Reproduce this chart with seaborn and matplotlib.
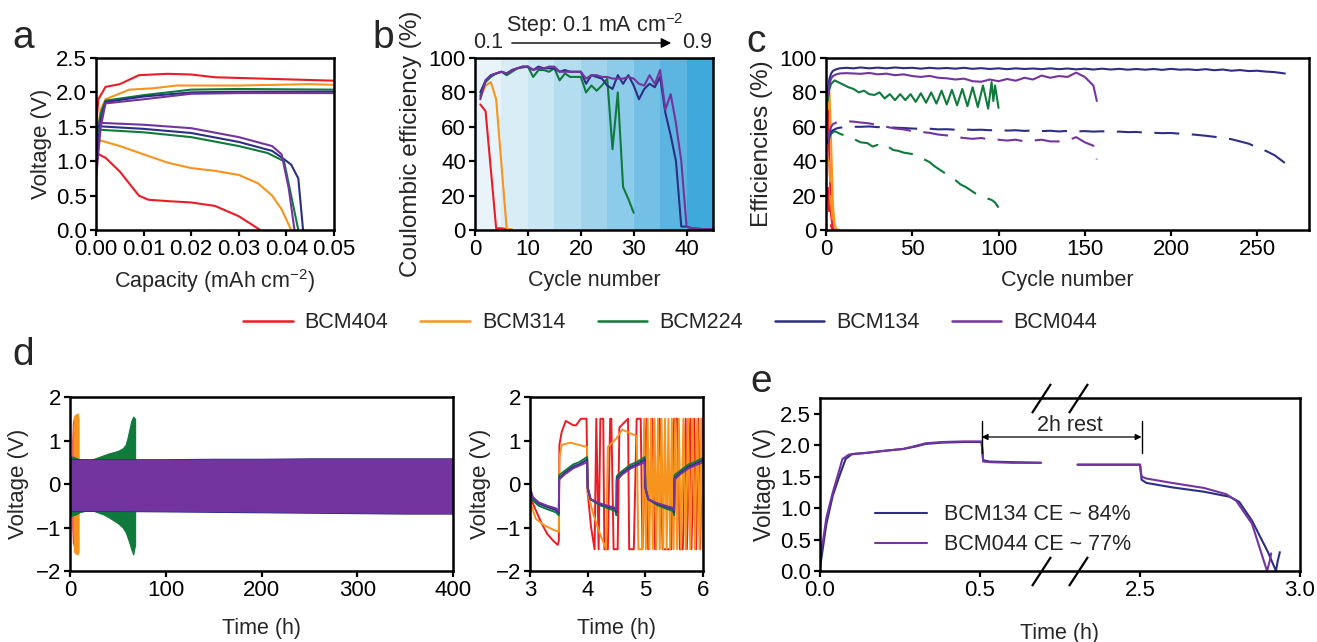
import seaborn as sns
import matplotlib.pyplot as plt
from matplotlib.lines import Line2D
from matplotlib.patches import FancyArrowPatch
import pandas as pd
import numpy as np

sns.set_style('ticks')
plt.rcParams['font.family'] = ['Liberation Sans', 'DejaVu Sans']
plt.rcParams['mathtext.default'] = 'regular'
plt.rcParams['axes.linewidth'] = 1.8
plt.rcParams['xtick.major.width'] = 1.6
plt.rcParams['ytick.major.width'] = 1.6
plt.rcParams['xtick.major.size'] = 4.5
plt.rcParams['ytick.major.size'] = 4.5
plt.rcParams['xtick.labelsize'] = 16
plt.rcParams['ytick.labelsize'] = 16
plt.rcParams['axes.labelsize'] = 15.5
plt.rcParams['axes.edgecolor'] = 'black'
plt.rcParams['xtick.color'] = 'black'
plt.rcParams['ytick.color'] = 'black'

names = ['BCM404', 'BCM314', 'BCM224', 'BCM134', 'BCM044']
colors = {'BCM404': '#ec1c24', 'BCM314': '#f7941d', 'BCM224': '#0f7a3b',
          'BCM134': '#2c2f85', 'BCM044': '#7434a0'}

# ---- panel a: voltage vs capacity (charge / discharge)
a_chg_x = {
    'BCM404': [0, 0.0005, 0.002, 0.005, 0.009, 0.015, 0.02, 0.025, 0.035, 0.05],
    'BCM314': [0, 0.001, 0.002, 0.007, 0.012, 0.017, 0.03, 0.045, 0.05],
    'BCM224': [0, 0.001, 0.002, 0.01, 0.02, 0.03, 0.05],
    'BCM134': [0, 0.001, 0.002, 0.01, 0.02, 0.03, 0.05],
    'BCM044': [0, 0.001, 0.002, 0.01, 0.02, 0.03, 0.05]}
a_chg_v = {
    'BCM404': [1.5, 1.9, 2.08, 2.12, 2.25, 2.27, 2.26, 2.22, 2.2, 2.17],
    'BCM314': [1.3, 1.75, 1.9, 2.04, 2.06, 2.1, 2.1, 2.12, 2.11],
    'BCM224': [1.3, 1.7, 1.88, 1.96, 2.04, 2.05, 2.04],
    'BCM134': [1.0, 1.6, 1.86, 1.94, 2.0, 2.01, 2.01],
    'BCM044': [0.75, 1.5, 1.84, 1.9, 1.98, 1.99, 1.99]}
a_dis_x = {
    'BCM404': [0, 0.002, 0.005, 0.009, 0.011, 0.015, 0.02, 0.025, 0.03, 0.0345],
    'BCM314': [0, 0.005, 0.01, 0.015, 0.02, 0.025, 0.03, 0.034, 0.037, 0.039, 0.041],
    'BCM224': [0, 0.01, 0.02, 0.03, 0.036, 0.0395, 0.041, 0.0425],
    'BCM134': [0, 0.01, 0.02, 0.03, 0.037, 0.0395, 0.041, 0.0425, 0.0435],
    'BCM044': [0, 0.01, 0.02, 0.03, 0.037, 0.039, 0.0405, 0.0417]}
a_dis_v = {
    'BCM404': [1.12, 1.05, 0.85, 0.5, 0.44, 0.42, 0.4, 0.35, 0.2, 0.0],
    'BCM314': [1.32, 1.22, 1.1, 0.98, 0.9, 0.86, 0.8, 0.68, 0.5, 0.3, 0.0],
    'BCM224': [1.46, 1.42, 1.35, 1.22, 1.12, 1.0, 0.5, 0.0],
    'BCM134': [1.51, 1.47, 1.41, 1.28, 1.15, 1.03, 0.95, 0.75, 0.0],
    'BCM044': [1.56, 1.53, 1.48, 1.35, 1.22, 1.1, 0.6, 0.0]}

# ---- panel b: coulombic efficiency in rate test
b_cycle = {
    'BCM404': [1, 2, 3, 4, 5, 6],
    'BCM314': [1, 2, 3, 4, 5, 6, 7],
    'BCM224': list(range(1, 31)),
    'BCM134': list(range(1, 46)),
    'BCM044': list(range(1, 46))}
b_ce = {
    'BCM404': [73, 69, 35, 1, 1, 0.5],
    'BCM314': [77, 84, 86, 76, 38, 0.5, 0.5],
    'BCM224': [78, 86, 89, 91, 92, 90, 92, 94, 94.5, 95, 89, 93, 93, 92, 94,
               87, 91, 89, 89, 89, 80, 84, 81, 84, 88, 47, 80, 25, 18, 10],
    'BCM134': [80, 87, 90, 91, 92, 91, 93, 94, 95, 95, 93, 95, 94, 94, 94,
               92, 93, 92, 92, 92, 85, 90, 89, 88, 84, 82, 90, 85, 90, 84,
               76, 82, 85, 83, 89, 68, 55, 40, 2, 2, 1, 0.5, 0.5, 0.5, 0.5],
    'BCM044': [76, 87, 90, 91, 92, 91, 93, 94, 95, 95, 93, 94, 94, 95, 95,
               92, 92, 92, 92, 92, 88, 90, 90, 89, 89, 88, 88, 88, 89, 88,
               85, 84, 90, 85, 93, 70, 79, 62, 40, 2, 1, 1, 0.5, 0.5, 0.5]}
b_band_edges = [0, 5, 10, 15, 20, 25, 30, 35, 40, 45]
b_band_colors = ['#e9f4fa', '#d9edf7', '#c8e6f3', '#b5ddf0', '#a1d4ec',
                 '#8ccbe9', '#74c0e5', '#5cb5e0', '#40a9db']

# ---- panel c: long cycling (solid = CE, dashed = EE)
c_cyc = {
    'BCM404': [1, 2, 3, 4, 5],
    'BCM314': [1, 2, 3, 4, 5, 6, 8],
    'BCM224': [1, 2, 3, 5, 7, 10, 13, 16, 19, 22, 25, 28, 31, 34, 37, 40, 43, 46,
               49, 52, 55, 58, 61, 64, 67, 70, 73, 76, 79, 82, 85, 88, 91, 94,
               96, 97, 98, 100],
    'BCM134': [1, 2, 3, 4, 6, 8, 12, 16, 20, 25, 30, 35, 40, 45, 50, 55, 60, 65,
               70, 75, 80, 85, 90, 95, 100, 105, 110, 115, 120, 125, 130, 135,
               140, 145, 150, 155, 160, 165, 170, 175, 180, 185, 190, 195, 200,
               205, 210, 215, 220, 225, 230, 235, 240, 245, 250, 255, 260, 266],
    'BCM044': [1, 2, 3, 4, 6, 8, 12, 16, 20, 25, 30, 35, 40, 45, 50, 55, 60, 65,
               70, 75, 80, 85, 90, 95, 100, 105, 110, 115, 120, 125, 130, 135,
               140, 145, 150, 155, 157]}
c_ce = {
    'BCM404': [75, 40, 8, 1, 0],
    'BCM314': [70, 80, 50, 15, 3, 0.5, 0],
    'BCM224': [75, 82, 85, 87, 86, 84.5, 83, 82, 80, 81, 79, 78.5, 80, 76.5, 79,
               75.5, 79, 75.5, 79, 74.5, 79.5, 74, 80, 73.5, 81, 73, 81.5, 72.5,
               82, 72, 83, 71.5, 84, 70.5, 86, 75, 84, 71],
    'BCM134': [80, 88, 91, 92.5, 93.5, 94, 94.3, 94, 94.5, 94, 94.4, 94, 94.5,
               94.1, 94.3, 93.8, 94.3, 93.9, 94.2, 93.8, 94.3, 93.7, 94.1, 93.6,
               94, 93.5, 94, 93.6, 93.9, 93.5, 94, 93.5, 93.9, 93.4, 93.8, 93.3,
               93.8, 93.3, 93.7, 93.2, 93.6, 93.2, 93.6, 93.1, 93.7, 93.2, 93.4,
               93, 93.5, 92.9, 93.3, 92.6, 93, 92.4, 92.6, 92.1, 91.8, 91],
    'BCM044': [78, 85, 88, 89.5, 90.5, 91, 91.2, 91, 90.8, 91.3, 90.5, 90.9, 90,
               90.5, 89.5, 89, 89.6, 88.5, 88.2, 87.5, 88, 86.5, 86.2, 87.5, 86.5,
               87.8, 86.8, 88.5, 87.5, 89.8, 88.5, 89.5, 89, 91.5, 89, 84, 75]}
c_ee_cyc = {
    'BCM404': [1, 2, 3, 4],
    'BCM314': [1, 2, 3, 4, 5, 6],
    'BCM224': [1, 2, 3, 5, 8, 12, 16, 20, 24, 27, 30, 33, 36, 39, 42, 45, 48, 51,
               54, 57, 60, 63, 66, 69, 72, 75, 78, 81, 84, 87, 90, 93, 96, 98, 100],
    'BCM134': c_cyc['BCM134'],
    'BCM044': c_cyc['BCM044']}
c_ee = {
    'BCM404': [25, 8, 2, 0],
    'BCM314': [42, 38, 15, 4, 1, 0],
    'BCM224': [50, 54, 56, 57.5, 56, 54.5, 53, 51, 50.5, 48.5, 49.5, 47.5, 48.5,
               46.5, 46, 45, 44.5, 44, 42.5, 41, 39.5, 37, 35, 33, 30.5, 29, 26.5,
               25, 23, 21, 20, 18.5, 17.5, 16, 13],
    'BCM134': [50, 55, 57, 58, 59, 59.5, 59.8, 60, 60, 60.2, 59.8, 60, 59.5, 59.3,
               59, 58.8, 58.9, 58.5, 58.6, 58.3, 58.5, 58.2, 58.3, 58, 58.2, 57.8,
               58, 57.6, 57.9, 57.5, 57.7, 57.3, 57.6, 57.3, 57.5, 57.2, 57.4, 57,
               57.2, 56.9, 57, 56.6, 56.5, 56.3, 56.4, 56, 55.8, 55.3, 54.8, 54.2,
               53.5, 52.8, 51.5, 50.2, 48, 46, 43.5, 39],
    'BCM044': [50, 57, 60, 61.5, 62.5, 63, 63.2, 63, 62.5, 62, 61, 60, 59, 58.5,
               57.5, 57, 56.5, 55.5, 55, 54, 53.5, 53, 53.5, 52.5, 52.5, 52, 52.5,
               51.5, 52, 52.5, 51.5, 51.5, 52, 54, 51, 49, 41]}

# ---- panel d (left): voltage envelope of symmetric cycling
d_t = {
    'BCM404': [2.5, 3, 4, 5, 6],
    'BCM314': [3.5, 4, 6, 8, 9],
    'BCM224': [0, 3, 6, 10, 15, 20, 25, 30, 35, 40, 45, 50, 55, 58, 60, 62, 64,
               66, 67, 68],
    'BCM134': [0, 50, 100, 150, 200, 250, 300, 350, 400],
    'BCM044': [0, 50, 100, 150, 200, 250, 300, 350, 400]}
d_hi = {
    'BCM404': [1.0, 1.4, 1.5, 1.5, 1.5],
    'BCM314': [1.3, 1.55, 1.6, 1.62, 1.5],
    'BCM224': [0.62, 0.63, 0.6, 0.57, 0.56, 0.55, 0.58, 0.62, 0.66, 0.7, 0.73,
               0.76, 0.82, 0.9, 1.05, 1.25, 1.45, 1.55, 1.52, 1.5],
    'BCM134': [0.57, 0.57, 0.57, 0.58, 0.58, 0.59, 0.59, 0.59, 0.59],
    'BCM044': [0.55, 0.55, 0.55, 0.56, 0.56, 0.57, 0.57, 0.57, 0.57]}
d_lo = {
    'BCM404': [-1.0, -1.35, -1.4, -1.45, -1.45],
    'BCM314': [-1.1, -1.55, -1.6, -1.62, -1.5],
    'BCM224': [-0.75, -0.72, -0.7, -0.65, -0.62, -0.6, -0.62, -0.66, -0.7, -0.76,
               -0.83, -0.9, -1.0, -1.1, -1.22, -1.35, -1.5, -1.62, -1.5, -1.4],
    'BCM134': [-0.62, -0.62, -0.63, -0.64, -0.65, -0.66, -0.67, -0.68, -0.68],
    'BCM044': [-0.6, -0.6, -0.61, -0.62, -0.63, -0.64, -0.65, -0.66, -0.66]}

# ---- panel d (right): zoom 3-6 h
dz_t_stable = [3.0, 3.05, 3.15, 3.3, 3.45, 3.5, 3.505, 3.6, 3.75, 3.85, 3.99,
               4.0, 4.05, 4.2, 4.35, 4.48, 4.5, 4.505, 4.6, 4.75, 4.85, 4.99,
               5.0, 5.05, 5.2, 5.35, 5.48, 5.5, 5.505, 5.6, 5.75, 5.85, 6.0]
dz_t = {
    'BCM404': [3.0, 3.1, 3.2, 3.3, 3.4, 3.48, 3.5, 3.51, 3.55, 3.62, 3.75, 3.8,
               3.88, 3.98, 4.0, 4.06, 4.12, 4.15, 4.19, 4.22, 4.27, 4.29, 4.35,
               4.39, 4.41, 4.45, 4.52, 4.55, 4.7, 4.72, 4.8, 4.85, 4.92, 4.95,
               5.02, 5.05, 5.12, 5.17, 5.25, 5.3, 5.45, 5.5, 5.55, 5.6, 5.65, 5.7,
               5.72, 5.78, 5.8, 5.85, 5.88, 5.92, 5.95, 6.0],
    'BCM314': [3.0, 3.1, 3.25, 3.4, 3.5, 3.51, 3.55, 3.7, 3.99, 4.0, 4.1, 4.2,
               4.32, 4.35, 4.5, 4.6, 4.85, 4.88, 4.95, 4.98, 5.01, 5.04, 5.07,
               5.1, 5.13, 5.16, 5.19, 5.22, 5.25, 5.28, 5.31, 5.34, 5.37, 5.4,
               5.43, 5.46, 5.49, 5.52, 5.55, 5.58, 5.62, 5.66, 5.7, 5.74, 5.78,
               5.82, 5.86, 5.9, 5.94, 5.97, 6.0],
    'BCM224': dz_t_stable, 'BCM134': dz_t_stable, 'BCM044': dz_t_stable}
dz_v = {
    'BCM404': [-0.3, -0.6, -0.9, -1.15, -1.3, -1.4, -1.3, 0.9, 1.2, 1.45, 1.35,
               1.35, 1.5, 1.5, -0.2, -1.0, -1.5, 1.5, -1.5, 1.5, 1.5, -1.5, -1.5,
               1.5, 1.5, -1.5, -1.5, 1.3, 1.5, -1.5, -1.5, 1.5, 1.5, -1.5, 1.5,
               -1.5, 1.5, -1.5, 1.5, -1.5, -1.5, 1.5, 1.5, -1.5, -1.5, 1.5, -1.5,
               1.5, -1.5, 1.5, -1.5, 1.5, -1.5, 1.5],
    'BCM314': [-0.4, -0.8, -0.95, -1.05, -1.1, 0.6, 0.9, 0.95, 0.85, -0.2, -0.7,
               -1.1, -1.5, 0.85, 1.05, 1.25, 1.1, -1.5, -1.5, 1.5, -1.5, 1.5,
               -1.5, 1.5, -1.5, 1.5, -1.5, 1.5, -1.5, 1.5, -1.5, 1.5, -1.5, 1.5,
               -1.5, 1.5, -1.5, 1.5, -1.5, 1.5, -1.5, 1.5, -1.5, 1.5, -1.5, 1.5,
               -1.5, 1.5, -1.5, 1.5, -1.5],
    'BCM224': [-0.2, -0.38, -0.5, -0.58, -0.65, -0.72, 0.2, 0.3, 0.45, 0.5, 0.62,
               -0.05, -0.35, -0.48, -0.56, -0.62, -0.72, 0.18, 0.3, 0.45, 0.5,
               0.62, -0.05, -0.35, -0.48, -0.56, -0.62, -0.72, 0.2, 0.3, 0.45,
               0.5, 0.6],
    'BCM134': [-0.12, -0.32, -0.45, -0.53, -0.6, -0.66, 0.13, 0.25, 0.4, 0.45,
               0.56, -0.1, -0.35, -0.45, -0.52, -0.57, -0.65, 0.12, 0.25, 0.4,
               0.45, 0.56, -0.1, -0.35, -0.45, -0.52, -0.57, -0.65, 0.13, 0.25,
               0.4, 0.45, 0.55],
    'BCM044': [-0.08, -0.3, -0.42, -0.5, -0.56, -0.62, 0.1, 0.22, 0.36, 0.42,
               0.5, -0.1, -0.35, -0.44, -0.5, -0.55, -0.6, 0.08, 0.22, 0.36, 0.42,
               0.5, -0.1, -0.35, -0.44, -0.5, -0.55, -0.6, 0.1, 0.22, 0.36, 0.42,
               0.5]}

# ---- panel e: charge, 2 h rest, discharge
e_labels = {'BCM134': 'BCM134 CE ~ 84%', 'BCM044': 'BCM044 CE ~ 77%'}
e_t1 = {
    'BCM134': [0.0, 0.01, 0.02, 0.04, 0.06, 0.08, 0.1, 0.15, 0.2, 0.26, 0.3, 0.33,
               0.38, 0.45, 0.505, 0.51, 0.53, 0.6, 0.69],
    'BCM044': [0.0, 0.01, 0.02, 0.04, 0.06, 0.07, 0.09, 0.15, 0.2, 0.26, 0.3,
               0.33, 0.38, 0.45, 0.505, 0.51, 0.53, 0.6, 0.69]}
e_v1 = {
    'BCM134': [0.05, 0.4, 0.75, 1.2, 1.5, 1.78, 1.86, 1.88, 1.91, 1.94, 1.98, 2.02,
               2.04, 2.05, 2.05, 1.76, 1.74, 1.73, 1.72],
    'BCM044': [0.25, 0.5, 0.85, 1.25, 1.6, 1.78, 1.85, 1.88, 1.91, 1.94, 1.99,
               2.03, 2.05, 2.06, 2.06, 1.74, 1.73, 1.72, 1.72]}
e_t2 = {
    'BCM134': [2.305, 2.4, 2.5, 2.505, 2.52, 2.6, 2.7, 2.78, 2.81, 2.85, 2.9,
               2.925, 2.93, 2.937],
    'BCM044': [2.305, 2.4, 2.5, 2.505, 2.52, 2.6, 2.7, 2.77, 2.8, 2.85, 2.897,
               2.905, 2.91]}
e_v2 = {
    'BCM134': [1.69, 1.69, 1.69, 1.45, 1.4, 1.33, 1.26, 1.18, 1.1, 0.8, 0.3, 0.0,
               0.15, 0.3],
    'BCM044': [1.69, 1.69, 1.69, 1.5, 1.47, 1.4, 1.32, 1.22, 1.12, 0.75, 0.0,
               0.15, 0.28]}
e_break_real = [-1.0, 0.0, 0.69, 2.305, 4.0]
e_break_disp = [-1.0, 0.0, 0.69, 0.805, 2.5]

W, H = 1317, 642
fig = plt.figure(figsize=(W / 100, H / 100), dpi=100)


def box(l, t, r, b):
    return fig.add_axes([l / W, 1 - b / H, (r - l) / W, (b - t) / H])


def line(ax, x, y, c, **kw):
    sns.lineplot(x=x, y=y, color=c, ax=ax, sort=False, estimator=None,
                 linewidth=kw.pop('lw', 1.5), **kw)


ax_a = box(96, 58, 334, 230)
ax_b = box(475, 58, 713, 230)
ax_c = box(826, 58, 1309, 230)
ax_d1 = box(70, 397, 453, 571)
ax_d2 = box(530, 397, 703, 571)
ax_e = box(820, 398, 1300, 571)

# a
for n in names:
    line(ax_a, a_dis_x[n], a_dis_v[n], colors[n])
    line(ax_a, a_chg_x[n], a_chg_v[n], colors[n])
ax_a.set_xlim(0, 0.05)
ax_a.set_ylim(0, 2.5)
ax_a.set_xticks([0, 0.01, 0.02, 0.03, 0.04, 0.05])
ax_a.set_xticklabels(['0.00', '0.01', '0.02', '0.03', '0.04', '0.05'])
ax_a.set_yticks([0, 0.5, 1.0, 1.5, 2.0, 2.5])
ax_a.set_yticklabels(['0.0', '0.5', '1.0', '1.5', '2.0', '2.5'])
ax_a.set_xlabel('Capacity (mAh cm$^{-2}$)', labelpad=5)
ax_a.set_ylabel('Voltage (V)', labelpad=3, fontsize=16)

# b
for i in range(len(b_band_colors)):
    ax_b.axvspan(b_band_edges[i], b_band_edges[i + 1], color=b_band_colors[i],
                 lw=0, zorder=0)
for n in names:
    line(ax_b, b_cycle[n], b_ce[n], colors[n])
ax_b.set_xlim(0, 45)
ax_b.set_ylim(0, 100)
ax_b.set_xticks([0, 10, 20, 30, 40])
ax_b.set_yticks([0, 20, 40, 60, 80, 100])
ax_b.set_xlabel('Cycle number', labelpad=7)
ax_b.set_ylabel('Coulombic efficiency (%)', labelpad=5, fontsize=17.5)
fig.text(595 / W, 1 - 25 / H, 'Step: 0.1 mA cm$^{-2}$', ha='center',
         va='center', fontsize=15.5)
fig.text(488 / W, 1 - 43 / H, '0.1', ha='center', va='center', fontsize=15.5)
fig.text(697 / W, 1 - 43 / H, '0.9', ha='center', va='center', fontsize=15.5)
fig.add_artist(FancyArrowPatch(
    (509 / W, 1 - 43 / H), (674 / W, 1 - 43 / H), transform=fig.transFigure,
    arrowstyle='-|>', mutation_scale=15, lw=1.0, color='black'))

# c
for n in names:
    line(ax_c, c_cyc[n], c_ce[n], colors[n])
    line(ax_c, c_ee_cyc[n], c_ee[n], colors[n], linestyle=(0, (12, 6)))
ax_c.set_xlim(0, 280)
ax_c.set_ylim(0, 100)
ax_c.set_xticks([0, 50, 100, 150, 200, 250])
ax_c.set_yticks([0, 20, 40, 60, 80, 100])
ax_c.set_xlabel('Cycle number', labelpad=7)
ax_c.set_ylabel('Efficiencies (%)', labelpad=5, fontsize=17.5)

# d left
for n in names:
    ax_d1.fill_between(d_t[n], d_lo[n], d_hi[n], color=colors[n], lw=0.8)
ax_d1.set_xlim(0, 400)
ax_d1.set_ylim(-2, 2)
ax_d1.set_xticks([0, 100, 200, 300, 400])
ax_d1.set_yticks([-2, -1, 0, 1, 2])
ax_d1.set_xlabel('Time (h)', labelpad=12)
ax_d1.set_ylabel('Voltage (V)', labelpad=5, fontsize=16)

# d right
for n in names:
    line(ax_d2, dz_t[n], dz_v[n], colors[n], lw=1.4)
ax_d2.set_xlim(3, 6)
ax_d2.set_ylim(-2, 2)
ax_d2.set_xticks([3, 4, 5, 6])
ax_d2.set_yticks([-2, -1, 0, 1, 2])
ax_d2.set_xlabel('Time (h)', labelpad=12)
ax_d2.set_ylabel('Voltage (V)', labelpad=3, fontsize=16)

# e (broken time axis via function scale)
ax_e.set_xscale('function', functions=(
    lambda t: np.interp(t, e_break_real, e_break_disp),
    lambda d: np.interp(d, e_break_disp, e_break_real)))
for n in ['BCM134', 'BCM044']:
    line(ax_e, e_t1[n], e_v1[n], colors[n], label=e_labels[n])
    line(ax_e, e_t2[n], e_v2[n], colors[n])
ax_e.set_xlim(0, 3.0)
ax_e.set_ylim(0, 2.75)
ax_e.set_xticks([0, 0.5, 2.5, 3.0])
ax_e.set_xticklabels(['0.0', '0.5', '2.5', '3.0'])
ax_e.xaxis.set_minor_locator(plt.NullLocator())
ax_e.set_yticks([0, 0.5, 1.0, 1.5, 2.0, 2.5])
ax_e.set_yticklabels(['0.0', '0.5', '1.0', '1.5', '2.0', '2.5'])
ax_e.set_xlabel('Time (h)', labelpad=16)
ax_e.set_ylabel('Voltage (V)', labelpad=3, fontsize=16.5)
ax_e.legend(loc='lower left', bbox_to_anchor=(0.075, -0.02), frameon=False,
            fontsize=15.5, handlelength=2.4, handletextpad=0.8,
            labelspacing=0.4)
brk = ax_e.get_xaxis_transform()
for xb in [0.69, 2.305]:
    for yb in [0, 1]:
        ax_e.plot([xb], [yb], transform=brk, marker=[(-0.65, -1), (0.65, 1)],
                  markersize=21, mew=1.6, mec='black', mfc='none', ls='none',
                  clip_on=False, zorder=5)
for xr in [0.505, 2.505]:
    ax_e.plot([xr, xr], [1.87, 2.38], color='black', lw=1.0)
ax_e.annotate('', xy=(0.505, 2.13), xytext=(2.505, 2.13),
              arrowprops=dict(arrowstyle='<|-|>', color='black', lw=0.9,
                              mutation_scale=9, shrinkA=0, shrinkB=0))
ax_e.text(1.95, 2.32, '2h rest', ha='center', va='center', fontsize=15.5)

for ax in [ax_a, ax_b, ax_c, ax_d1, ax_d2, ax_e]:
    ax.tick_params(direction='out', pad=2)
    for s in ax.spines.values():
        s.set_zorder(6)
for ax in [ax_a, ax_b, ax_c, ax_d1, ax_d2]:
    if ax.get_legend() is not None:
        ax.get_legend().remove()

# shared legend
handles = [Line2D([], [], color=colors[n], lw=1.8) for n in names]
fig.legend(handles, names, loc='center', bbox_to_anchor=(670 / W, 1 - 323 / H),
           ncol=5, frameon=False, fontsize=15.5, handlelength=2.3,
           handletextpad=0.55, columnspacing=1.5)

# panel letters
for letter, x, y in [('a', 12, 38), ('b', 372, 38), ('c', 746, 42),
                     ('d', 12, 355), ('e', 750, 382)]:
    fig.text(x / W, 1 - y / H, letter, fontsize=28, ha='left', va='center')

fig.savefig('out.png', dpi=100)
